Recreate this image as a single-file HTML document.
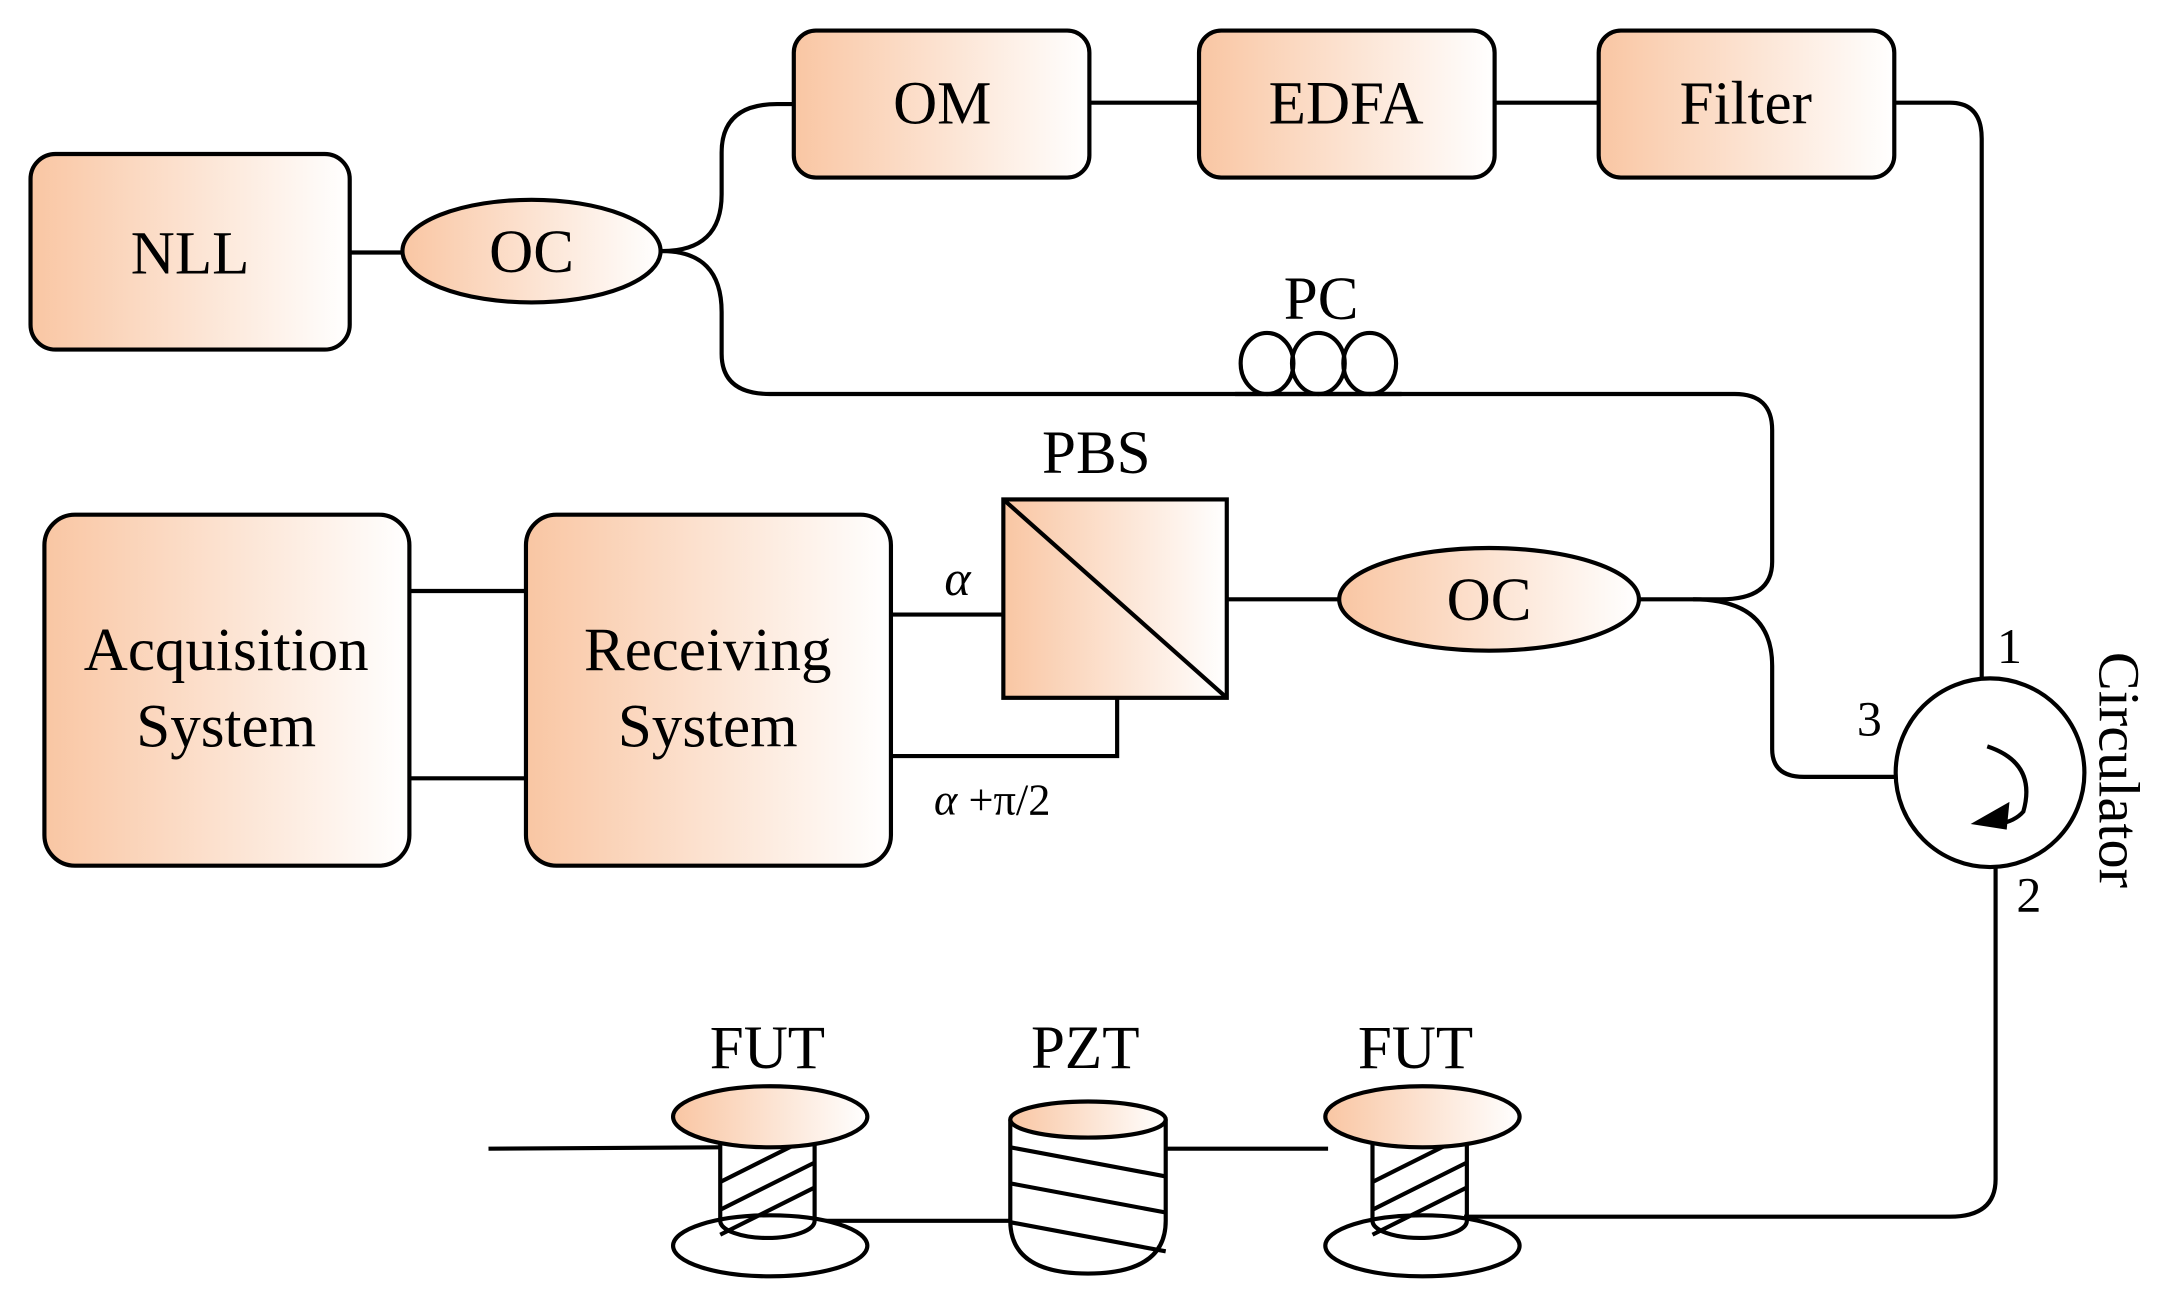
<!DOCTYPE html>
<html><head><style>html,body{margin:0;padding:0;background:#fff;}svg{display:block}</style></head>
<body>
<svg width="2176" height="1311" viewBox="0 0 1568 945" preserveAspectRatio="none" xmlns="http://www.w3.org/2000/svg" font-family="Liberation Serif, serif">
<defs>
<linearGradient id="g" x1="0" y1="0" x2="1" y2="0"><stop offset="0" stop-color="#f9c6a3"/><stop offset="1" stop-color="#ffffff"/></linearGradient>
</defs>
<g fill="none" stroke="#000" stroke-width="3">
<line x1="252" y1="182" x2="290" y2="182"/>
<path d="M477 181 Q520 181 520 140 L520 110 Q520 75 560 75 L572 75"/>
<path d="M477 181 Q520 181 520 225 L520 255 Q520 284 555 284 L1250 284 Q1277 284 1277 310 L1277 405 Q1277 432 1240 432 L1182 432"/>
<line x1="785" y1="74" x2="864" y2="74"/>
<line x1="1077" y1="74" x2="1152" y2="74"/>
<path d="M1365 74 L1405 74 Q1428 74 1428 100 L1428 489"/>
<line x1="884" y1="432" x2="967" y2="432"/>
<path d="M1220 432 Q1277 432 1277 480 L1277 540 Q1277 560 1300 560 L1366 560"/>
<path d="M1438 625 L1438 850 Q1438 877 1405 877 L1055 877"/>
<line x1="295" y1="426" x2="379" y2="426"/>
<line x1="295" y1="561" x2="379" y2="561"/>
<line x1="642" y1="443" x2="723" y2="443"/>
<path d="M642 545 L805 545 L805 503"/>
<line x1="352" y1="828" x2="519" y2="827"/>
<line x1="587" y1="880" x2="728" y2="880"/>
<line x1="840" y1="828" x2="957" y2="828"/>
</g>
<g stroke="#000" stroke-width="3" fill="url(#g)">
<rect x="22" y="111" width="230" height="141" rx="18"/>
<ellipse cx="383" cy="181" rx="93" ry="37"/>
<rect x="572" y="22" width="213" height="106" rx="16"/>
<rect x="864" y="22" width="213" height="106" rx="16"/>
<rect x="1152" y="22" width="213" height="106" rx="16"/>
<rect x="32" y="371" width="263" height="253" rx="22"/>
<rect x="379" y="371" width="263" height="253" rx="22"/>
<rect x="723" y="360" width="161" height="143"/>
<ellipse cx="1073" cy="432" rx="108" ry="37"/>
</g>
<g fill="none" stroke="#000" stroke-width="3">
<line x1="723" y1="360" x2="884" y2="503"/>
<ellipse cx="913" cy="262" rx="19" ry="22" fill="#fff"/>
<ellipse cx="950" cy="262" rx="19" ry="22"/>
<ellipse cx="987" cy="262" rx="19" ry="22"/>
<line x1="890" y1="284" x2="1010" y2="284"/>
<circle cx="1434" cy="557" r="68" fill="#fff"/>
<path d="M1432 538 Q1468 550 1458 585 Q1452 592 1440 594"/>
</g>
<path d="M1420 594 L1448 578 L1446 598 Z" fill="#000"/>
<g stroke="#000" stroke-width="3" fill="none">
<ellipse cx="555" cy="898" rx="70" ry="22" fill="#fff"/>
<path d="M519 815 L519 880 A33 12 0 0 0 587 880 L587 815"/>
<line x1="519" y1="852" x2="587" y2="818"/>
<line x1="519" y1="872" x2="587" y2="838"/>
<line x1="519" y1="890" x2="587" y2="856"/>
<ellipse cx="555" cy="805" rx="70" ry="22" fill="url(#g)"/>
<ellipse cx="1025" cy="898" rx="70" ry="22" fill="#fff"/>
<path d="M989 815 L989 880 A33 12 0 0 0 1057 880 L1057 815"/>
<line x1="989" y1="852" x2="1057" y2="818"/>
<line x1="989" y1="872" x2="1057" y2="838"/>
<line x1="989" y1="890" x2="1057" y2="856"/>
<ellipse cx="1025" cy="805" rx="70" ry="22" fill="url(#g)"/>
<path d="M728 807 L728 880 Q728 918 784 918 Q840 918 840 880 L840 807" fill="#fff"/>
<line x1="728" y1="827" x2="840" y2="848"/>
<line x1="728" y1="853" x2="840" y2="874"/>
<line x1="728" y1="881" x2="840" y2="902"/>
<ellipse cx="784" cy="807" rx="56" ry="13" fill="url(#g)"/>
</g>
<g font-size="44" text-anchor="middle" fill="#000">
<text x="137" y="197">NLL</text>
<text x="383" y="196">OC</text>
<text x="679" y="89">OM</text>
<text x="970" y="89">EDFA</text>
<text x="1258" y="89">Filter</text>
<text x="952" y="230">PC</text>
<text x="790" y="341">PBS</text>
<text x="1073" y="447">OC</text>
<text x="163" y="483">Acquisition</text>
<text x="163" y="538">System</text>
<text x="510" y="483">Receiving</text>
<text x="510" y="538">System</text>
<text x="553" y="770">FUT</text>
<text x="782" y="770">PZT</text>
<text x="1020" y="770">FUT</text>
<text x="690" y="429" font-style="italic" font-size="36">α</text>
<text x="715" y="587" font-size="32"><tspan font-style="italic">α</tspan> +π/2</text>
<text x="1347" y="530" font-size="36">3</text>
<text x="1448" y="478" font-size="36">1</text>
<text x="1462" y="657" font-size="36">2</text>
<text x="0" y="0" font-size="42" transform="translate(1513,555) rotate(90)">Circulator</text>
</g>
</svg>
</body></html>
